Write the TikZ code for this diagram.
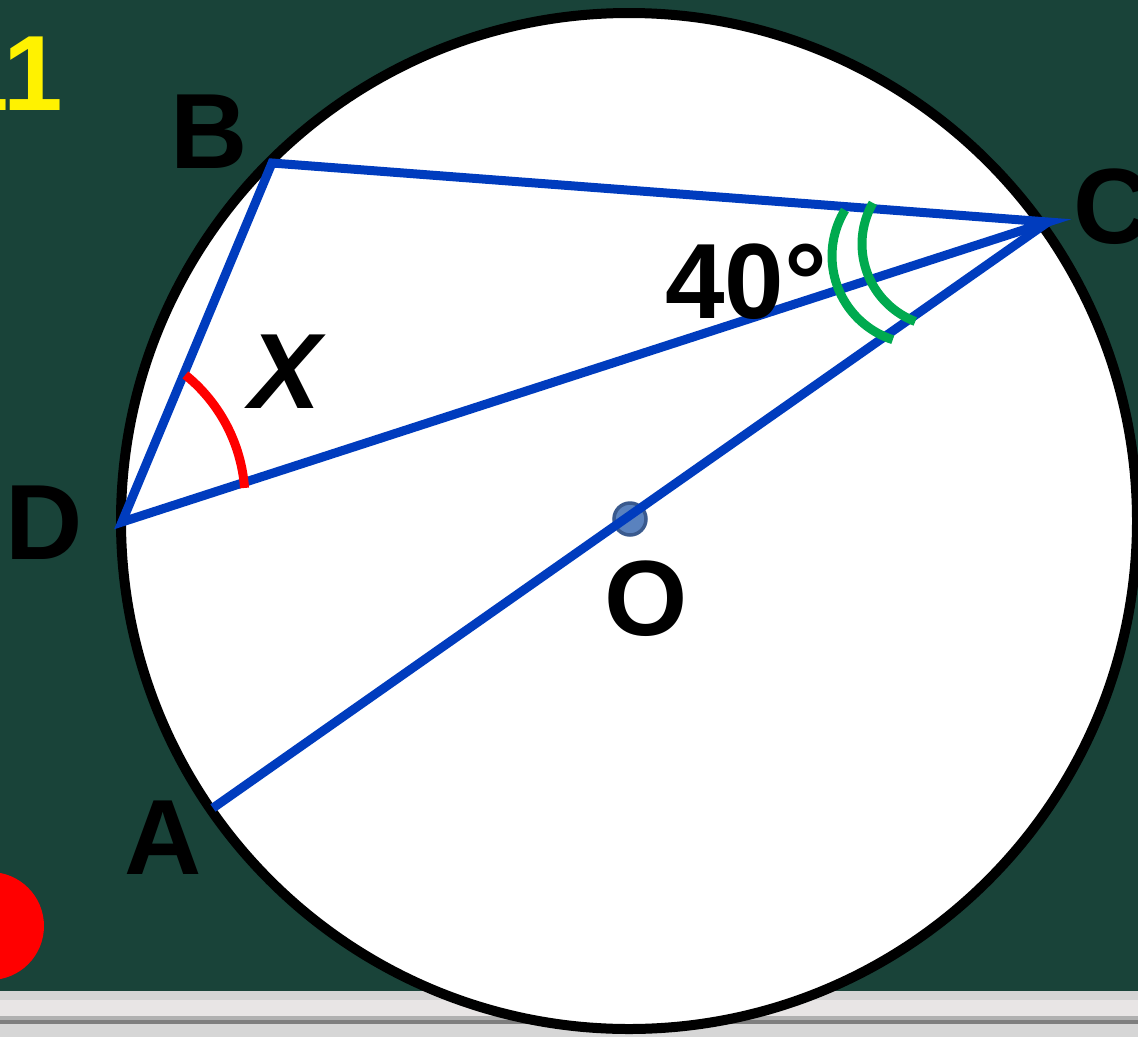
\documentclass[tikz,border=0pt]{standalone}
\usepackage{fontspec}
\setmainfont{Liberation Sans}
\definecolor{board}{HTML}{194339}
\definecolor{lineblue}{HTML}{003CBE}
\definecolor{arcgreen}{HTML}{00AA4F}
\definecolor{dotfill}{HTML}{5A82BE}
\definecolor{dotedge}{HTML}{3A5A8E}
\begin{document}
\begin{tikzpicture}[x=1pt,y=-1pt,
  lbl/.style={font=\fontsize{107}{107}\selectfont\bfseries, inner sep=0pt, text=black},
  seg/.style={draw=lineblue, line width=9pt},
  angarc/.style={line width=9pt}]
\useasboundingbox (0,0) rectangle (1138,1037);
% board
\fill[board] (0,0) rectangle (1138,1037);
% chalk tray
\fill[fill={rgb,255:red,212;green,212;blue,212}] (0,991) rectangle (1138,1000);
\fill[fill={rgb,255:red,232;green,229;blue,229}] (0,1000) rectangle (1138,1016);
\fill[fill={rgb,255:red,176;green,176;blue,176}] (0,1016) rectangle (1138,1020);
\fill[fill={rgb,255:red,126;green,126;blue,126}] (0,1020) rectangle (1138,1024);
\fill[fill={rgb,255:red,214;green,214;blue,214}] (0,1024) rectangle (1138,1037);
% red button
\fill[red] (-10,926) circle[radius=54];
% number
\node[lbl, text=yellow, anchor=base east] (num) at (63,110) {11};
% circle
\draw[fill=white, line width=10pt] (629,521) circle[radius=508];
% points
\coordinate (B) at (272,163);
\coordinate (C) at (1048,222);
\coordinate (D) at (122,522);
\coordinate (A) at (213,808);
\coordinate (O) at (630,519);
% centre dot
\draw[fill=dotfill, draw=dotedge, line width=3.5pt] (O) circle[radius=16];
% lines
\draw[seg, line join=miter] (C) -- (B) -- (D) -- cycle;
\draw[seg] (C) -- (A);
% angle marks
\draw[angarc, draw=red] plot[domain=-51:-4.3, samples=40] ({84+161*cos(\x)},{500+161*sin(\x)});
\draw[angarc, draw=arcgreen] plot[domain=211.5:108, samples=40] ({920+88*cos(\x)},{256+88*sin(\x)});
\draw[angarc, draw=arcgreen] plot[domain=209.7:111, samples=40] ({945+83*cos(\x)},{244+83*sin(\x)});
% labels
\node[lbl] (lB) at (209.5,131.5) {B};
\node[lbl] (lC) at (1112,207) {C};
\node[lbl] (lD) at (44,523) {D};
\node[lbl] (lA) at (163.5,837.5) {A};
\node[lbl] (lO) at (646.5,598.5) {O};
\node[lbl, font=\fontsize{107}{107}\selectfont\bfseries\itshape] (lX) at (285.5,371.5) {X};
\node[lbl] (l40) at (746,281.5) {40°};
\end{tikzpicture}
\end{document}
